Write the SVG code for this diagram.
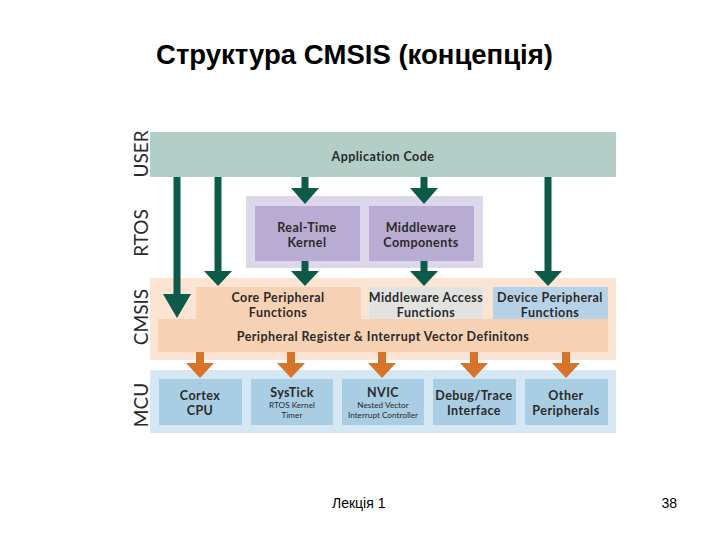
<svg xmlns="http://www.w3.org/2000/svg" width="720" height="540" viewBox="0 0 720 540">
<style>
.t{font-family:"Lato","Open Sans","Liberation Sans",sans-serif;font-weight:bold;font-size:12.5px;letter-spacing:0.45px;fill:#2a2a2a;text-anchor:middle}
.s{font-family:"Lato","Open Sans","Liberation Sans",sans-serif;font-size:8.2px;fill:#2a2a2a;text-anchor:middle}
.side{font-family:"Lato","Open Sans","Liberation Sans",sans-serif;font-size:19px;fill:#2a2a2a;text-anchor:middle}
.g{fill:#0d5a48}
.o{fill:#d8742a}
.mcu{fill:#a9cde2}
</style>
<rect width="720" height="540" fill="#ffffff"/>
<text x="354.5" y="64" font-family="Liberation Sans, Arial, sans-serif" font-weight="bold" font-size="27.5" text-anchor="middle" fill="#000">Структура CMSIS (концепція)</text>

<g id="labels">
<text class="side" transform="translate(148,154) rotate(-90)">USER</text>
<text class="side" transform="translate(148,233) rotate(-90)">RTOS</text>
<text class="side" transform="translate(148,317) rotate(-90)">CMSIS</text>
<text class="side" transform="translate(148,405) rotate(-90)">MCU</text>
</g>

<g id="user">
<rect x="150" y="132" width="466" height="45" fill="#b3cec7"/>
<text class="t" x="383" y="160.5">Application Code</text>
</g>

<g id="rtos">
<rect x="246" y="196" width="237" height="72" fill="#ddd7ea"/>
</g>
<g id="rtk">
<rect x="255" y="206" width="105" height="55" fill="#b9acd2"/>
<text class="t" x="307" y="231.5">Real-Time</text>
<text class="t" x="307" y="246.5">Kernel</text>
</g>
<g id="mwc">
<rect x="369" y="206" width="105" height="55" fill="#b9acd2"/>
<text class="t" x="421" y="231.5">Middleware</text>
<text class="t" x="421" y="246.5">Components</text>
</g>

<g id="cmsis">
<rect x="150" y="278" width="466" height="82" fill="#fbe4d4"/>
</g>
<g id="core">
<rect x="196" y="287" width="165" height="32" fill="#f7d1b4"/>
<text class="t" x="278" y="301.5">Core Peripheral</text>
<text class="t" x="278" y="316.5">Functions</text>
</g>
<g id="mwa">
<rect x="369" y="287" width="114" height="32" fill="#e2e3e1"/>
<text class="t" x="426" y="301.5" letter-spacing="0.1">Middleware Access</text>
<text class="t" x="426" y="316.5">Functions</text>
</g>
<g id="dev">
<rect x="493" y="287" width="115" height="32" fill="#b7d2e6"/>
<text class="t" x="550" y="301.5" letter-spacing="0.2">Device Peripheral</text>
<text class="t" x="550" y="316.5">Functions</text>
</g>
<g id="preg">
<rect x="158" y="319" width="450" height="33" fill="#f7d1b4"/>
<text class="t" x="383" y="340.5">Peripheral Register &amp; Interrupt Vector Definitons</text>
</g>

<g id="mcu">
<rect x="150" y="370" width="466" height="63" fill="#d5e7f2"/>
</g>
<g id="cpu">
<rect class="mcu" x="159" y="379" width="83" height="46"/>
<text class="t" x="200" y="400">Cortex</text>
<text class="t" x="200" y="415">CPU</text>
</g>
<g id="systick">
<rect class="mcu" x="251" y="379" width="82" height="46"/>
<text class="t" x="292" y="396.5">SysTick</text>
<text class="s" x="292" y="408">RTOS Kernel</text>
<text class="s" x="292" y="418">Timer</text>
</g>
<g id="nvic">
<rect class="mcu" x="342" y="379" width="82" height="46"/>
<text class="t" x="383" y="396.5">NVIC</text>
<text class="s" x="383" y="408">Nested Vector</text>
<text class="s" x="383" y="418">Interrupt Controller</text>
</g>
<g id="debug">
<rect class="mcu" x="433" y="379" width="83" height="46"/>
<text class="t" x="474" y="400">Debug/Trace</text>
<text class="t" x="474" y="415">Interface</text>
</g>
<g id="other">
<rect class="mcu" x="525" y="379" width="83" height="46"/>
<text class="t" x="566" y="400">Other</text>
<text class="t" x="566" y="415">Peripherals</text>
</g>

<g id="connectors">
<path class="g" d="M173.5,177H180.5V294H191L177,318L163,294H173.5Z"/>
<path class="g" d="M214.5,177H221.5V271H232L218,286L204,271H214.5Z"/>
<path class="g" d="M301.5,177H308.5V188H319L305,204L291,188H301.5Z"/>
<path class="g" d="M420.5,177H427.5V188H438L424,204L410,188H420.5Z"/>
<path class="g" d="M544.5,177H551.5V271H562L548,286L534,271H544.5Z"/>
<path class="g" d="M301.5,261H308.5V271H319L305,286L291,271H301.5Z"/>
<path class="g" d="M420.5,261H427.5V271H438L424,286L410,271H420.5Z"/>
<path class="o" d="M196,352H204V363H214L200,378L186,363H196Z"/>
<path class="o" d="M287,352H295V363H305L291,378L277,363H287Z"/>
<path class="o" d="M378,352H386V363H396L382,378L368,363H378Z"/>
<path class="o" d="M470,352H478V363H488L474,378L460,363H470Z"/>
<path class="o" d="M562,352H570V363H580L566,378L552,363H562Z"/>
</g>

<text x="332" y="508" font-family="Liberation Sans, Arial, sans-serif" font-size="14" fill="#000">Лекція 1</text>
<text x="677" y="508" font-family="Liberation Sans, Arial, sans-serif" font-size="14" fill="#000" text-anchor="end">38</text>
</svg>
